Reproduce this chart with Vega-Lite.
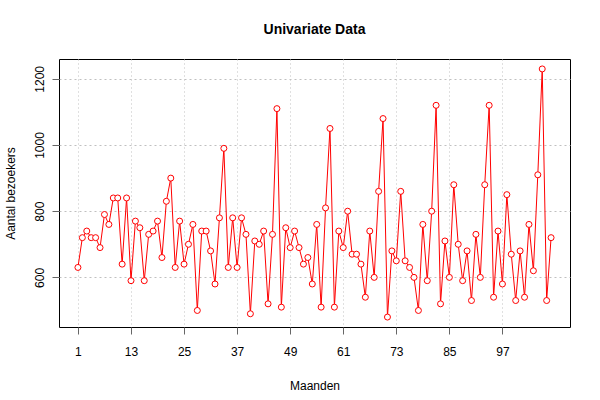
{
  "$schema": "https://vega.github.io/schema/vega-lite/v6.json",
  "width": 511,
  "height": 268,
  "autosize": {"type": "none"},
  "padding": {"left": 59, "top": 59, "right": 30, "bottom": 73},
  "background": "white",
  "config": {
    "font": "Liberation Sans",
    "view": {"stroke": "black", "strokeWidth": 1}
  },
  "title": {
    "text": "Univariate Data",
    "font": "Liberation Sans",
    "fontSize": 14,
    "fontWeight": "bold",
    "color": "black",
    "offset": 22,
    "anchor": "middle"
  },
  "data": {
    "values": [
      {"t":1,"v":630},{"t":2,"v":720},{"t":3,"v":740},{"t":4,"v":720},{"t":5,"v":720},{"t":6,"v":690},
      {"t":7,"v":790},{"t":8,"v":760},{"t":9,"v":840},{"t":10,"v":840},{"t":11,"v":640},{"t":12,"v":840},
      {"t":13,"v":590},{"t":14,"v":770},{"t":15,"v":750},{"t":16,"v":590},{"t":17,"v":730},{"t":18,"v":740},
      {"t":19,"v":770},{"t":20,"v":660},{"t":21,"v":830},{"t":22,"v":900},{"t":23,"v":630},{"t":24,"v":770},
      {"t":25,"v":640},{"t":26,"v":700},{"t":27,"v":760},{"t":28,"v":500},{"t":29,"v":740},{"t":30,"v":740},
      {"t":31,"v":680},{"t":32,"v":580},{"t":33,"v":780},{"t":34,"v":990},{"t":35,"v":630},{"t":36,"v":780},
      {"t":37,"v":630},{"t":38,"v":780},{"t":39,"v":730},{"t":40,"v":490},{"t":41,"v":710},{"t":42,"v":700},
      {"t":43,"v":740},{"t":44,"v":520},{"t":45,"v":730},{"t":46,"v":1110},{"t":47,"v":510},{"t":48,"v":750},
      {"t":49,"v":690},{"t":50,"v":740},{"t":51,"v":690},{"t":52,"v":640},{"t":53,"v":660},{"t":54,"v":580},
      {"t":55,"v":760},{"t":56,"v":510},{"t":57,"v":810},{"t":58,"v":1050},{"t":59,"v":510},{"t":60,"v":740},
      {"t":61,"v":690},{"t":62,"v":800},{"t":63,"v":670},{"t":64,"v":670},{"t":65,"v":640},{"t":66,"v":540},
      {"t":67,"v":740},{"t":68,"v":600},{"t":69,"v":860},{"t":70,"v":1080},{"t":71,"v":480},{"t":72,"v":680},
      {"t":73,"v":650},{"t":74,"v":860},{"t":75,"v":650},{"t":76,"v":630},{"t":77,"v":600},{"t":78,"v":500},
      {"t":79,"v":760},{"t":80,"v":590},{"t":81,"v":800},{"t":82,"v":1120},{"t":83,"v":520},{"t":84,"v":710},
      {"t":85,"v":600},{"t":86,"v":880},{"t":87,"v":700},{"t":88,"v":590},{"t":89,"v":680},{"t":90,"v":530},
      {"t":91,"v":730},{"t":92,"v":600},{"t":93,"v":880},{"t":94,"v":1120},{"t":95,"v":540},{"t":96,"v":740},
      {"t":97,"v":580},{"t":98,"v":850},{"t":99,"v":670},{"t":100,"v":530},{"t":101,"v":680},{"t":102,"v":540},
      {"t":103,"v":760},{"t":104,"v":620},{"t":105,"v":910},{"t":106,"v":1230},{"t":107,"v":530},{"t":108,"v":720}
    ]
  },
  "encoding": {
    "x": {
      "field": "t",
      "type": "quantitative",
      "scale": {"domain": [-3.28, 112.28], "nice": false, "zero": false},
      "axis": {
        "title": "Maanden",
        "values": [1, 13, 25, 37, 49, 61, 73, 85, 97],
        "format": "d",
        "domain": false,
        "grid": true,
        "gridColor": "#c0c0c0",
        "gridDash": [1, 3],
        "gridWidth": 1,
        "tickColor": "#666666",
        "tickSize": 7,
        "labelFont": "Liberation Sans",
        "labelFontSize": 12,
        "labelColor": "black",
        "labelPadding": 12,
        "titleFont": "Liberation Sans",
        "titleFontSize": 12,
        "titleFontWeight": "normal",
        "titleColor": "black",
        "titlePadding": 23
      }
    },
    "y": {
      "field": "v",
      "type": "quantitative",
      "scale": {"domain": [450, 1260], "nice": false, "zero": false},
      "axis": {
        "title": "Aantal bezoekers",
        "values": [600, 800, 1000, 1200],
        "format": "d",
        "domain": false,
        "grid": true,
        "gridColor": "#c0c0c0",
        "gridDash": [2, 3],
        "gridWidth": 1,
        "tickColor": "#666666",
        "tickSize": 7,
        "labelAngle": -90,
        "labelAlign": "center",
        "labelBaseline": "bottom",
        "labelFont": "Liberation Sans",
        "labelFontSize": 12,
        "labelColor": "black",
        "labelPadding": 6,
        "titleFont": "Liberation Sans",
        "titleFontSize": 12,
        "titleFontWeight": "normal",
        "titleColor": "black",
        "titlePadding": 16
      }
    }
  },
  "layer": [
    {"mark": {"type": "line", "color": "red", "strokeWidth": 1}},
    {"mark": {"type": "point", "shape": "circle", "color": "red", "filled": false, "fill": "white", "fillOpacity": 1, "strokeWidth": 1, "size": 36, "opacity": 1}}
  ]
}
